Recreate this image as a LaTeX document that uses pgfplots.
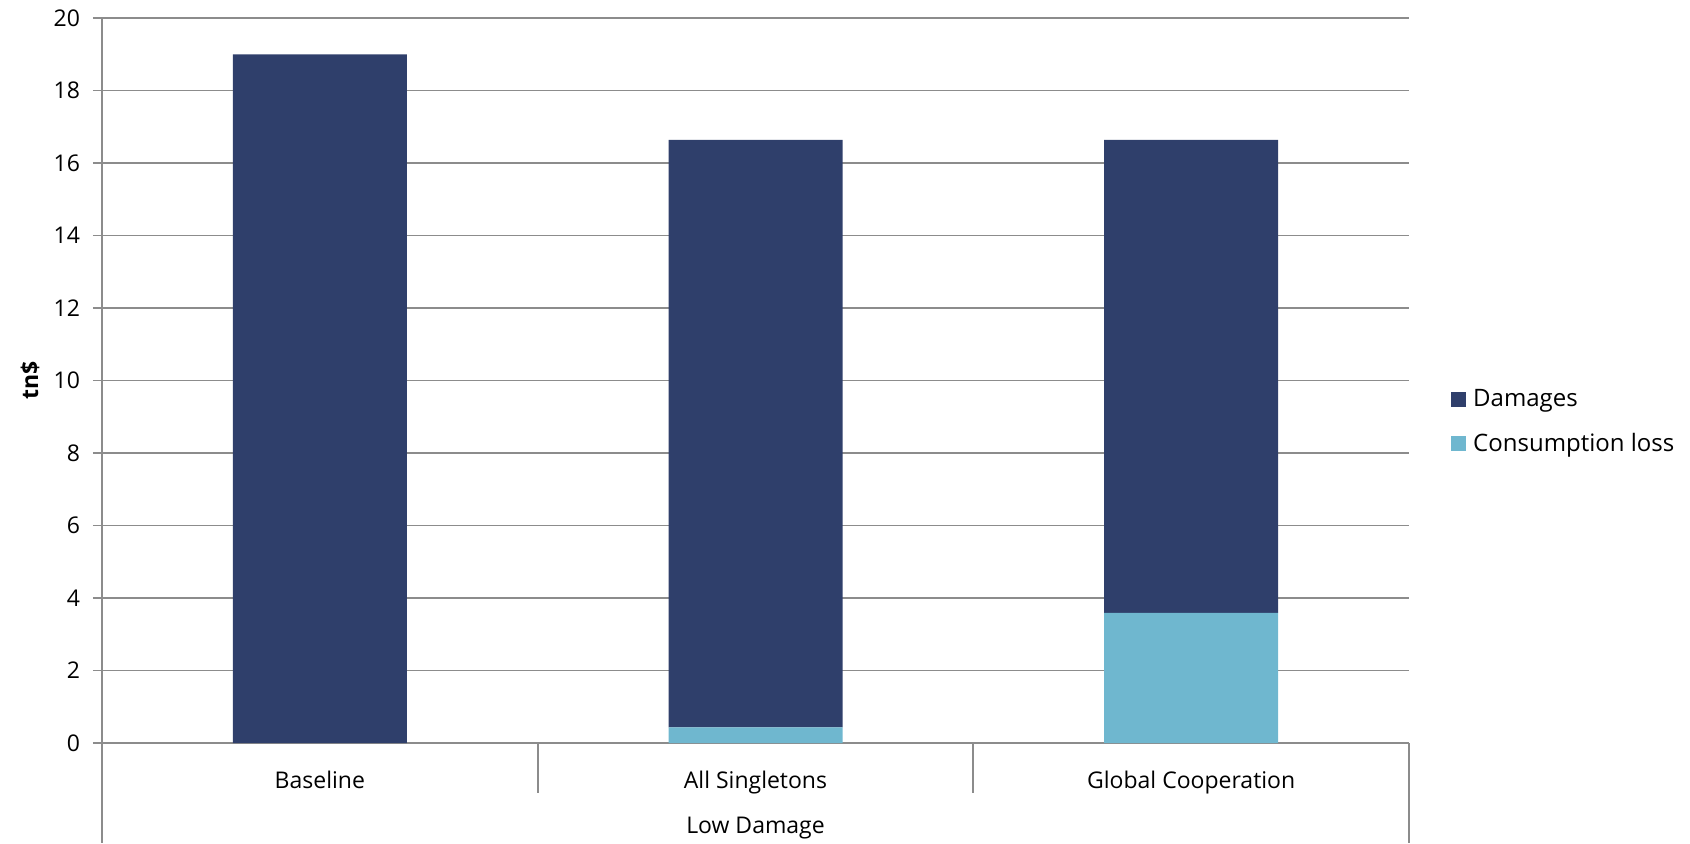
\documentclass[border=0pt]{standalone}
\usepackage{pgfplots}
\pgfplotsset{compat=1.18}
\usepackage{fontspec}
\setmainfont{Open Sans}
\definecolor{dmg}{HTML}{2F3F6B}
\definecolor{cons}{HTML}{6FB7CF}
\definecolor{gridc}{HTML}{8C8C8C}
\begin{document}
\begin{tikzpicture}
\useasboundingbox (-51pt,-50pt) rectangle (794pt,371.5pt);
\begin{axis}[
  at={(0pt,0pt)}, anchor=south west,
  scale only axis, width=653.5pt, height=362.5pt,
  font=\fontsize{11.5}{14}\selectfont,
  ybar stacked, bar width=87pt,
  xmin=-0.5, xmax=2.5, ymin=0, ymax=20,
  ytick={0,2,...,20},
  xtick={0,1,2},
  xticklabels={Baseline, All Singletons, Global Cooperation},
  major x tick style={draw=none},
  axis x line*=bottom, axis y line*=left,
  axis line style={gridc, line width=0.9pt},
  ymajorgrids, grid style={gridc, line width=0.9pt},
  y tick style={gridc, line width=0.9pt},
  tick align=outside, major tick length=4.5pt,
  /pgf/number format/assume math mode=true,
  yticklabel style={xshift=-3pt},
  xticklabel style={yshift=-6pt},
  ylabel={\bfseries tn\$},
  every axis y label/.style={at={(axis description cs:0,0.5)}, xshift=-36pt, rotate=90, anchor=center},
  reverse legend,
  legend style={draw=none, fill=none, at={(1.032,0.443)}, anchor=west, inner sep=0pt, row sep=9pt, nodes={inner sep=1.5pt}, font=\fontsize{12}{14}\selectfont},
  legend image code/.code={\fill[#1] (0pt,-3.75pt) rectangle (7.5pt,3.75pt); \path (9.5pt,0pt);},
  legend cell align=left,
  clip=false,
]
\addplot[fill=cons, draw=none] coordinates {(0,0) (1,0.43) (2,3.59)};
\addplot[fill=dmg, draw=none] coordinates {(0,19.0) (1,16.21) (2,13.05)};
\legend{Consumption loss, Damages}
\draw[gridc, line width=0.9pt] (rel axis cs:0,0) -- ++(0pt,-50pt);
\draw[gridc, line width=0.9pt] (rel axis cs:1,0) -- ++(0pt,-50pt);
\draw[gridc, line width=0.9pt] (axis cs:0.5,0) -- ++(0pt,-25pt);
\draw[gridc, line width=0.9pt] (axis cs:1.5,0) -- ++(0pt,-25pt);
\node[anchor=center] at ([yshift=-42.5pt]rel axis cs:0.5,0) {Low Damage};
\end{axis}
\end{tikzpicture}
\end{document}
